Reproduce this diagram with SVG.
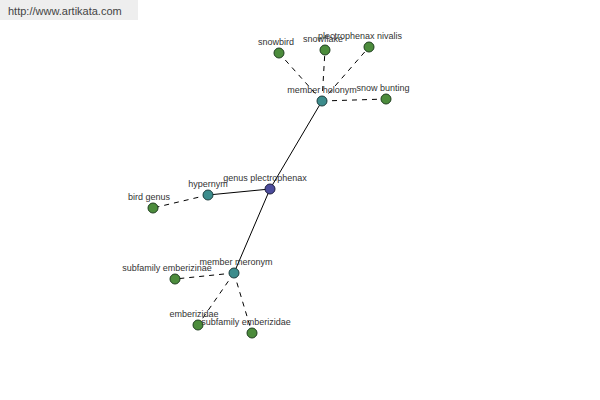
<svg xmlns="http://www.w3.org/2000/svg" width="600" height="400" viewBox="0 0 600 400">
<style>
text{font-family:"Liberation Sans",Arial,sans-serif;font-size:9px;fill:#333;text-anchor:middle}
.solid{stroke:#000;stroke-width:1;fill:none}
.dash{stroke:#000;stroke-width:1;stroke-dasharray:5,5;fill:none}
.leaf{fill:#4c8c3c;stroke:#1f3f1f;stroke-width:1}
.rel{fill:#3c8c8c;stroke:#1f3f3f;stroke-width:1}
.center{fill:#4c4c9c;stroke:#1f1f3f;stroke-width:1}
</style>
<rect x="0" y="0" width="600" height="400" fill="#fff"/>
<rect x="0" y="0" width="138" height="20" fill="#eeeeee"/>
<text x="8" y="15" style="font-size:11px;text-anchor:start;fill:#444">http://www.artikata.com</text>
<g id="connectors">
<line class="solid" x1="270" y1="189" x2="322" y2="101"/>
<line class="solid" x1="270" y1="189" x2="208" y2="195"/>
<line class="solid" x1="270" y1="189" x2="234" y2="273"/>
<line class="dash" x1="322" y1="101" x2="279" y2="53"/>
<line class="dash" x1="322" y1="101" x2="325" y2="50"/>
<line class="dash" x1="322" y1="101" x2="369" y2="47"/>
<line class="dash" x1="322" y1="101" x2="386" y2="99"/>
<line class="dash" x1="208" y1="195" x2="153" y2="208"/>
<line class="dash" x1="234" y1="273" x2="175" y2="279"/>
<line class="dash" x1="234" y1="273" x2="198" y2="325"/>
<line class="dash" x1="234" y1="273" x2="252" y2="333"/>
</g>
<g id="n-snowbird"><circle class="leaf" cx="279" cy="53" r="5"/><text x="276" y="45">snowbird</text></g>
<g id="n-snowflake"><circle class="leaf" cx="325" cy="50" r="5"/><text x="323" y="42">snowflake</text></g>
<g id="n-nivalis"><circle class="leaf" cx="369" cy="47" r="5"/><text x="360" y="39">plectrophenax nivalis</text></g>
<g id="n-holonym"><circle class="rel" cx="322" cy="101" r="5"/><text x="322" y="93">member holonym</text></g>
<g id="n-bunting"><circle class="leaf" cx="386" cy="99" r="5"/><text x="383" y="91">snow bunting</text></g>
<g id="n-center"><circle class="center" cx="270" cy="189" r="5"/><text x="265" y="181">genus plectrophenax</text></g>
<g id="n-hypernym"><circle class="rel" cx="208" cy="195" r="5"/><text x="208" y="187">hypernym</text></g>
<g id="n-birdgenus"><circle class="leaf" cx="153" cy="208" r="5"/><text x="149" y="200">bird genus</text></g>
<g id="n-meronym"><circle class="rel" cx="234" cy="273" r="5"/><text x="236" y="265">member meronym</text></g>
<g id="n-emberizinae"><circle class="leaf" cx="175" cy="279" r="5"/><text x="167" y="271">subfamily emberizinae</text></g>
<g id="n-emberizidae"><circle class="leaf" cx="198" cy="325" r="5"/><text x="194" y="317">emberizidae</text></g>
<g id="n-subemberizidae"><circle class="leaf" cx="252" cy="333" r="5"/><text x="246" y="325">subfamily emberizidae</text></g>
</svg>
